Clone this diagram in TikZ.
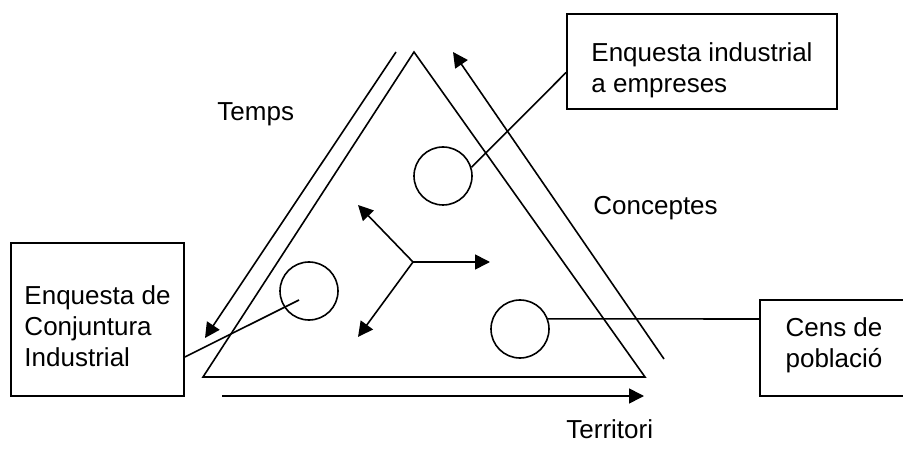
\documentclass[tikz,border=0pt]{standalone}
\usepackage{fontspec}
\setmainfont{Liberation Sans}
\usepackage{tikz}
\usetikzlibrary{positioning, arrows.meta, calc}

% extra room above the first line / below the last line of a box text
\newcommand{\boxpadtop}[1]{\raisebox{#1}{\vphantom{Edl}}}
\newcommand{\boxpadbot}[1]{\raisebox{-#1}{\vphantom{p}}}

\begin{document}
\begin{tikzpicture}[
			x=0.5pt, y=-0.5pt,
			box/.style={rectangle, draw, line width=0.9pt, align=left, inner sep=0pt},
			source/.style={circle, draw, line width=0.8pt, minimum size=29pt, inner sep=0pt},
			label/.style={anchor=base west, inner sep=0pt},
			arrow/.style={line width=0.8pt, -{Triangle[length=7.5pt, width=7.5pt]}},
			link/.style={line width=0.8pt},
			font=\fontsize{13pt}{15.5pt}\selectfont
			]
			\useasboundingbox (0,0) rectangle (903,459);
			
			% Nodes
			\node[box, minimum width=135pt, minimum height=47.5pt] (enqind) at (702,61.5) {\boxpadtop{9pt}Enquesta industrial\\a empreses};
			\node[box, minimum width=86.5pt, minimum height=76.5pt] (enqconj) at (97.5,319.5) {\boxpadtop{7pt}Enquesta de\\Conjuntura\\Industrial};
			\node[box, minimum width=74pt, minimum height=48pt] (cens) at (834,348) {Cens de\\població\boxpadbot{3pt}};
			
			\node[source] (indcirc) at (443,176) {};
			\node[source] (conjcirc) at (309,291) {};
			\node[source] (censcirc) at (520,329) {};
			
			\node[label] (temps) at (217,121) {Temps};
			\node[label] (conceptes) at (593,215) {Conceptes};
			\node[label] (territori) at (566,438) {Territori};
			
			% Triangle
			\coordinate (apex) at (414,52);
			\coordinate (bl) at (203,377);
			\coordinate (br) at (645,377);
			\draw[line width=0.8pt] (apex) -- (bl) -- (br) -- cycle;
			
			% Axes
			\draw[arrow] (396,52) -- (205,338);
			\draw[arrow] (664,359) -- (453,52);
			\draw[arrow] (222,396) -- (644,396);
			
			\coordinate (hub) at (413,262);
			\draw[arrow] (hub) -- (490,262);
			\draw[arrow] (hub) -- (358,337);
			\draw[arrow] (hub) -- (358,205);
			
			% Links
			\coordinate (conjend) at (299,300);
			\draw[link] (indcirc.17) -- ([yshift=-5.5pt]enqind.west);
			\draw[link] ([yshift=-18.75pt]enqconj.east) -- (conjend);
			\draw[link] (censcirc.20) -- ([yshift=14.5pt]cens.west);
			
		\end{tikzpicture}
\end{document}
